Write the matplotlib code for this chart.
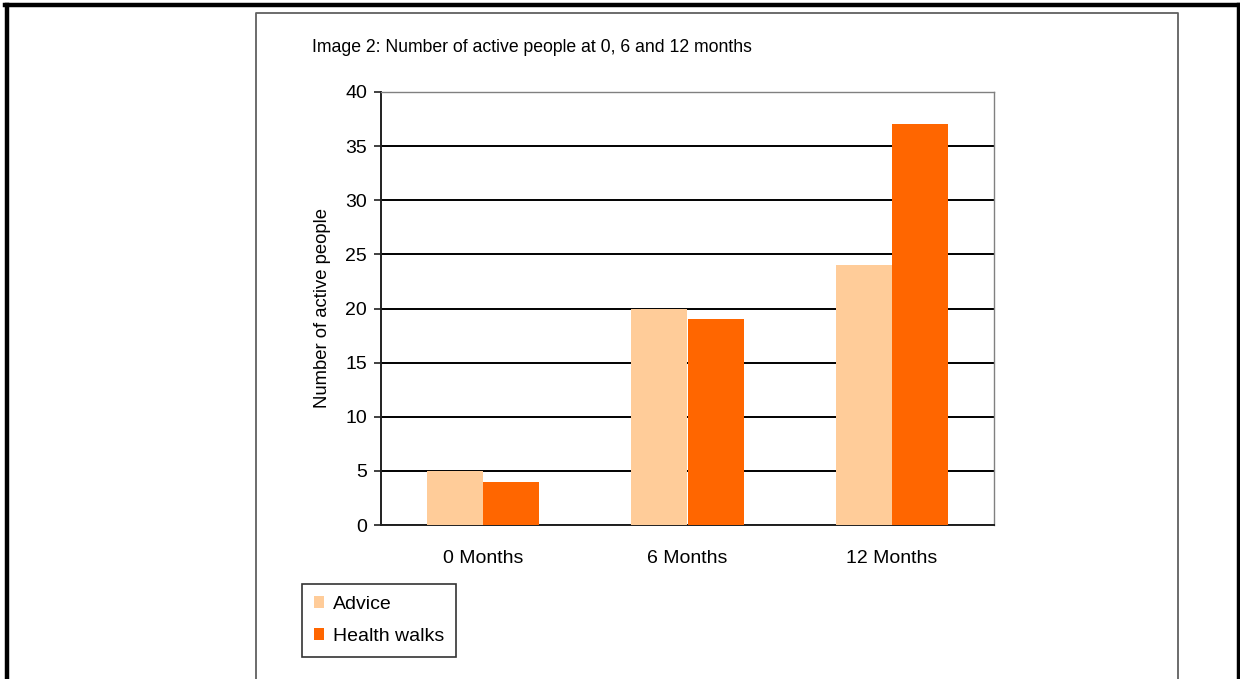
import matplotlib
matplotlib.use("Agg")
import matplotlib.pyplot as plt
import numpy as np
from matplotlib.lines import Line2D

categories = ["0 Months", "6 Months", "12 Months"]
advice = [5, 20, 24]
health_walks = [4, 19, 37]
series_names = ["Advice", "Health walks"]
yticks = [0, 5, 10, 15, 20, 25, 30, 35, 40]
title = "Image 2: Number of active people at 0, 6 and 12 months"
ylabel = "Number of active people"

plt.rcParams['font.family'] = ['Liberation Sans', 'DejaVu Sans']

W, H = 1240, 679
fig = plt.figure(figsize=(W / 100, H / 100), dpi=100)
fig.patch.set_facecolor("white")

def fx(px):
    return px / W

def fy(py):
    return 1 - py / H

# outer thick border (left, top, right)
fig.add_artist(Line2D([fx(7), fx(7)], [fy(5), -0.1], color="black", lw=3.2, transform=fig.transFigure))
fig.add_artist(Line2D([fx(5), fx(1240)], [fy(5), fy(5)], color="black", lw=3.2, transform=fig.transFigure))
fig.add_artist(Line2D([fx(1238.5), fx(1238.5)], [fy(5), -0.1], color="black", lw=3.2, transform=fig.transFigure))
# inner chart frame
fig.add_artist(Line2D([fx(255.5), fx(255.5), fx(1177.5), fx(1177.5)],
                      [-0.1, fy(12.5), fy(12.5), -0.1], color="#606060", lw=1.3,
                      transform=fig.transFigure))

ax = fig.add_axes([fx(381), fy(525), fx(994) - fx(381), fy(92) - fy(525)])
x = np.arange(len(categories))
bw = 0.275
ax.bar(x - bw / 2, advice, width=bw, color="#FFCC99", label=series_names[0], zorder=3)
ax.bar(x + bw / 2, health_walks, width=bw, color="#FF6600", label=series_names[1], zorder=3)

ax.set_xlim(-0.5, len(categories) - 0.5)
ax.set_ylim(0, 40)
ax.set_yticks(yticks)
ax.set_xticks(x)
ax.set_xticklabels(categories, fontsize=14)
ax.tick_params(axis="x", length=0, pad=18)
ax.tick_params(axis="y", length=5, width=1.2, color="#202020", labelsize=14, pad=5)
ax.yaxis.grid(True, color="black", lw=1.4, zorder=1)
ax.set_axisbelow(True)
for s in ["top", "right"]:
    ax.spines[s].set_color("#808080")
    ax.spines[s].set_linewidth(1.0)
for s in ["left", "bottom"]:
    ax.spines[s].set_color("#202020")
    ax.spines[s].set_linewidth(1.4)
ax.set_ylabel(ylabel, fontsize=13.3, labelpad=10)

fig.text(fx(312), fy(48), title, fontsize=12.7, ha="left", va="center")

leg = fig.legend(loc="upper left", bbox_to_anchor=(fx(302), fy(584)), fontsize=14,
                 frameon=True, fancybox=False, edgecolor="black", handlelength=0.55,
                 handleheight=0.55, handletextpad=0.45, borderpad=0.6, labelspacing=0.8,
                 borderaxespad=0)
leg.get_frame().set_linewidth(1.2)

fig.savefig("out.png", dpi=100, facecolor="white")
